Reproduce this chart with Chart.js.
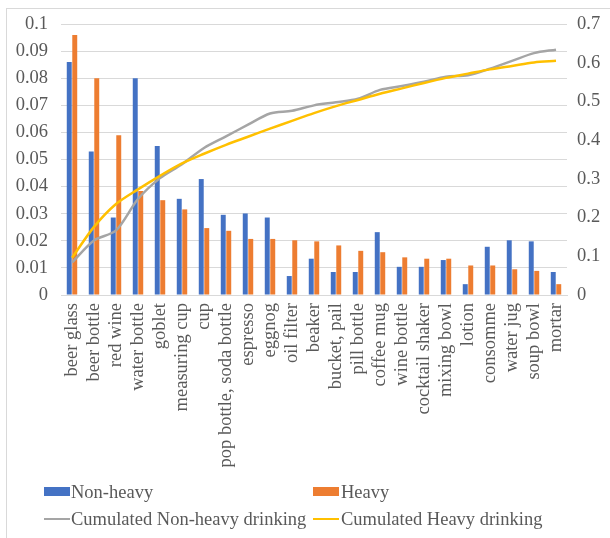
<!DOCTYPE html>
<html>
<head>
<meta charset="utf-8">
<script src="https://cdn.jsdelivr.net/npm/chart.js@4/dist/chart.umd.min.js"></script>
<style>
  html, body { margin: 0; padding: 0; background: #ffffff; }
  #wrap { position: relative; width: 610px; height: 538px; overflow: hidden; }
  #frame { position: absolute; left: 6px; top: 8px; width: 640px; height: 560px; border: 1px solid #d9d9d9; box-sizing: border-box; }
  #c { position: absolute; left: 0; top: 0; }
  .lg { position: absolute; font-family: "Liberation Serif", "Times New Roman", serif; font-size: 18.5px; color: #595959; white-space: nowrap; line-height: 20px; }
  .sw { position: absolute; }
</style>
</head>
<body>
<div id="wrap">
  <div id="frame"></div>
  <canvas id="c" width="610" height="538"></canvas>
  <div class="sw" style="left:44px;top:487px;width:26px;height:9px;background:#4472c4"></div>
  <div class="lg" style="left:71px;top:482px">Non-heavy</div>
  <div class="sw" style="left:313px;top:487px;width:26px;height:9px;background:#ed7d31"></div>
  <div class="lg" style="left:341px;top:482px">Heavy</div>
  <div class="sw" style="left:44px;top:518px;width:26px;height:2px;background:#a5a5a5"></div>
  <div class="lg" style="left:71px;top:509px">Cumulated Non-heavy drinking</div>
  <div class="sw" style="left:313px;top:518px;width:26px;height:2px;background:#ffc000"></div>
  <div class="lg" style="left:341px;top:509px">Cumulated Heavy drinking</div>
</div>
<script>
const categories = ["beer glass", "beer bottle", "red wine", "water bottle", "goblet", "measuring cup", "cup",
  "pop bottle, soda bottle", "espresso", "eggnog", "oil filter", "beaker", "bucket, pail", "pill bottle",
  "coffee mug", "wine bottle", "cocktail shaker", "mixing bowl", "lotion", "consomme", "water jug",
  "soup bowl", "mortar"];

const nonHeavy = [0.086, 0.053, 0.0286, 0.080, 0.055, 0.0355, 0.0428, 0.0296, 0.0301, 0.0286, 0.0070, 0.0134,
  0.0085, 0.0085, 0.0232, 0.0104, 0.0104, 0.0129, 0.0040, 0.0178, 0.0202, 0.0198, 0.0085];

const heavy = [0.096, 0.080, 0.059, 0.0384, 0.035, 0.0316, 0.0247, 0.0237, 0.0207, 0.0207, 0.0202, 0.0198,
  0.0183, 0.0163, 0.0158, 0.0139, 0.0134, 0.0134, 0.0109, 0.0109, 0.0095, 0.0089, 0.0040];

const cumNonHeavy = [0.084, 0.141, 0.167, 0.248, 0.302, 0.338, 0.380, 0.410, 0.440, 0.469, 0.476, 0.490,
  0.498, 0.507, 0.530, 0.540, 0.551, 0.564, 0.568, 0.585, 0.605, 0.625, 0.634];

const cumHeavy = [0.096, 0.176, 0.235, 0.273, 0.308, 0.340, 0.365, 0.388, 0.409, 0.430, 0.450, 0.470,
  0.488, 0.504, 0.520, 0.534, 0.548, 0.561, 0.572, 0.583, 0.592, 0.601, 0.605];

const leftTicks = [0, 0.01, 0.02, 0.03, 0.04, 0.05, 0.06, 0.07, 0.08, 0.09, 0.1];
const rightTicks = [0, 0.1, 0.2, 0.3, 0.4, 0.5, 0.6, 0.7];

const FONT = { family: '"Liberation Serif", "Times New Roman", serif', size: 18.5 };
const TEXT = '#595959';
const GRID = '#d9d9d9';

new Chart(document.getElementById('c'), {
  data: {
    labels: categories,
    datasets: [
      { type: 'bar', label: 'Non-heavy', data: nonHeavy, yAxisID: 'y',
        backgroundColor: '#4472c4', categoryPercentage: 0.5, barPercentage: 0.9, order: 2 },
      { type: 'bar', label: 'Heavy', data: heavy, yAxisID: 'y',
        backgroundColor: '#ed7d31', categoryPercentage: 0.5, barPercentage: 0.9, order: 3 },
      { type: 'line', label: 'Cumulated Non-heavy drinking', data: cumNonHeavy, yAxisID: 'yR',
        borderColor: '#a5a5a5', borderWidth: 2.5, pointRadius: 0, tension: 0.3, order: 1 },
      { type: 'line', label: 'Cumulated Heavy drinking', data: cumHeavy, yAxisID: 'yR',
        borderColor: '#ffc000', borderWidth: 2.5, pointRadius: 0, tension: 0.3, order: 0 }
    ]
  },
  options: {
    responsive: false,
    animation: false,
    layout: { padding: { top: 23, left: 0, right: 0, bottom: 0 } },
    plugins: { legend: { display: false }, tooltip: { enabled: false } },
    scales: {
      x: {
        grid: { display: false, drawTicks: false },
        border: { color: GRID, width: 1 },
        ticks: { color: TEXT, font: FONT, minRotation: 90, maxRotation: 90, autoSkip: false, padding: 8 },
        afterFit: s => { s.height = 243; }
      },
      y: {
        position: 'left', min: 0, max: 0.1,
        afterBuildTicks: s => { s.ticks = leftTicks.map(v => ({ value: v })); },
        grid: { color: GRID, drawTicks: false },
        border: { display: false },
        ticks: { color: TEXT, font: FONT, padding: 13, callback: v => String(+v.toFixed(2)) },
        afterFit: s => { s.width = 61; }
      },
      yR: {
        position: 'right', min: 0, max: 0.7,
        afterBuildTicks: s => { s.ticks = rightTicks.map(v => ({ value: v })); },
        grid: { display: false, drawTicks: false },
        border: { display: false },
        ticks: { color: TEXT, font: FONT, padding: 10, callback: v => String(+v.toFixed(1)) },
        afterFit: s => { s.width = 43; }
      }
    }
  }
});
</script>
</body>
</html>
